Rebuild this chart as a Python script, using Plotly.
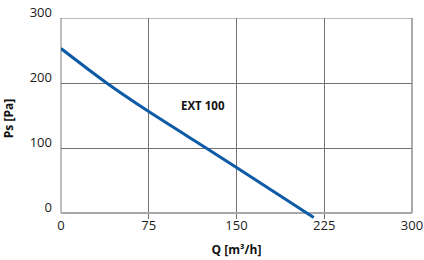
import plotly.graph_objects as go

# Data
q_values = [0, 39, 75, 124, 150, 216]          # Q [m³/h]
ps_values = [253, 200, 156, 100, 70, -7]       # Ps [Pa]
x_ticks = [0, 75, 150, 225, 300]
y_ticks = [0, 100, 200, 300]
series_label = "EXT 100"
label_pos = (121, 166)

GRID = "#727272"
EDGE = "#a8a8a8"
TEXT = "#1a1a1a"

fig = go.Figure()
fig.add_trace(go.Scatter(
    x=q_values, y=ps_values, mode="lines",
    line=dict(color="#0d5aa7", width=3, shape="spline", smoothing=0.8),
    showlegend=False, hoverinfo="skip",
))

fig.add_annotation(x=label_pos[0], y=label_pos[1], text="<b>" + series_label + "</b>",
                   showarrow=False, font=dict(family="Open Sans", size=11.5, color="#111"))

# frame: left / bottom lighter, top / right darker
fig.add_shape(type="line", xref="paper", yref="y", x0=0, x1=0, y0=y_ticks[0], y1=y_ticks[-1],
              line=dict(color=EDGE, width=1.5), layer="below")
fig.add_shape(type="line", xref="paper", yref="y", x0=1, x1=1, y0=y_ticks[0], y1=y_ticks[-1],
              line=dict(color=GRID, width=1.2), layer="below")
fig.add_shape(type="line", xref="paper", yref="y", x0=0, x1=1, y0=y_ticks[-1], y1=y_ticks[-1],
              line=dict(color=GRID, width=1.2), layer="below")

axis_common = dict(
    showgrid=True, gridcolor=GRID, gridwidth=1.2,
    showline=False, ticks="", automargin=False,
    tickfont=dict(family="Open Sans", size=13, color=TEXT),
    ticklabeloverflow="allow",
    fixedrange=True,
)

fig.update_xaxes(range=[0, 300], tickvals=x_ticks, ticktext=[str(v) for v in x_ticks],
                 zeroline=False, ticklabelstandoff=-3,
                 title=dict(text="<b>Q [m³/h]</b>", standoff=12,
                            font=dict(family="Open Sans", size=12, color="#111")),
                 **axis_common)
fig.update_yaxes(range=[-9.2, 300], tickvals=y_ticks, ticktext=[str(v) for v in y_ticks],
                 zeroline=True, zerolinecolor=EDGE, zerolinewidth=1.5,
                 ticklabelshift=-6, ticklabelstandoff=8,
                 title=dict(text="<b>Ps [Pa]</b>", standoff=13,
                            font=dict(family="Open Sans", size=12, color="#111")),
                 **axis_common)

fig.update_layout(
    width=424, height=260,
    margin=dict(l=61, r=12, t=18, b=41),
    paper_bgcolor="white", plot_bgcolor="white",
    font=dict(family="Open Sans"),
)

fig.write_html("out.html", config={"displayModeBar": False},
               post_script="document.body.style.margin='0';")
